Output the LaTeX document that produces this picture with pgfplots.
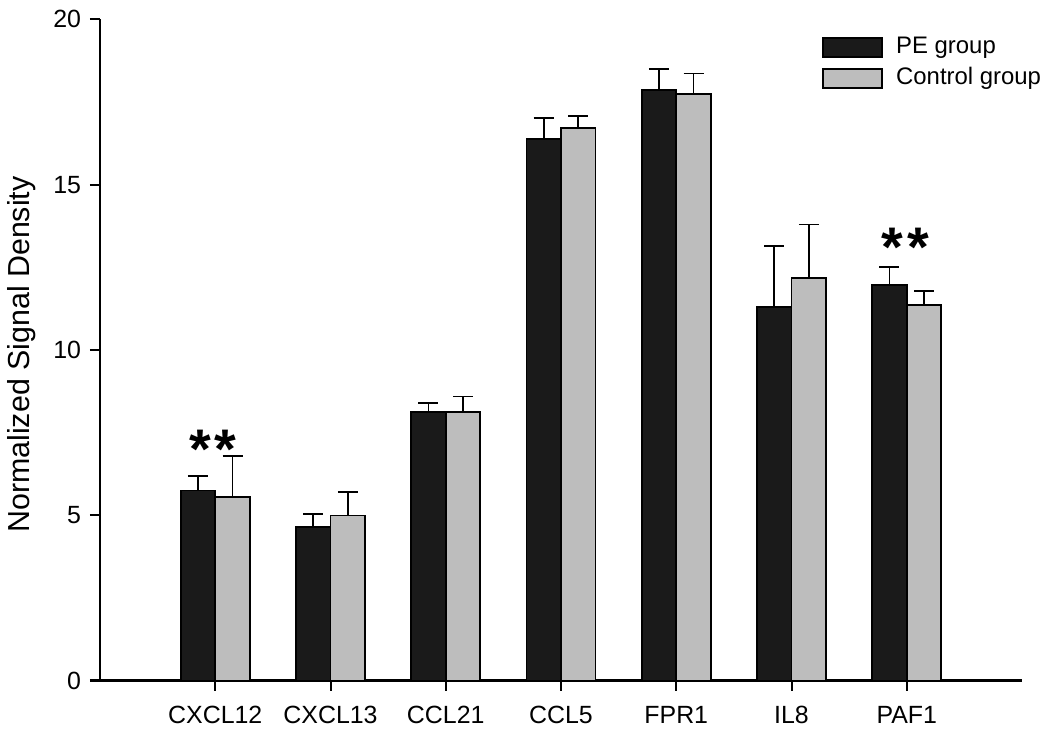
\documentclass[border=0pt]{standalone}
\usepackage{fontspec}
\setmainfont{Liberation Sans}
\usepackage{pgfplots}
\usepackage{pgfplotstable}
\pgfplotsset{compat=1.18}
\definecolor{pecol}{RGB}{26,26,26}
\definecolor{ctcol}{RGB}{189,189,189}
\pgfplotstableread{
x pe pee ct cte
0 5.75 0.43 5.54 1.24
1 4.64 0.39 4.99 0.71
2 8.11 0.29 8.11 0.48
3 16.38 0.63 16.70 0.37
4 17.87 0.62 17.73 0.63
5 11.29 1.85 12.17 1.62
6 11.96 0.55 11.35 0.44
}\data
\begin{document}
\begin{tikzpicture}
\useasboundingbox (-100bp,-52.5bp) rectangle (963bp,680.5bp);
\begin{axis}[
  at={(0,0)}, anchor=south west,
  scale only axis, width=922bp, height=661.2bp,
  xmin=-1, xmax=7, ymin=0, ymax=20,
  axis x line*=bottom, axis y line*=left,
  axis line style={line width=2bp, -},
  xtick={0,...,6},
  xticklabels={CXCL12,CXCL13,CCL21,CCL5,FPR1,IL8,PAF1},
  ytick={0,5,10,15,20},
  yticklabels={0\kern5.5bp,5\kern5.5bp,10\kern5.5bp,15\kern5.5bp,20\kern5.5bp},
  tick align=outside,
  major tick length=10bp,
  tick style={line width=2bp, black},
  xticklabel style={font=\fontsize{25}{29}\selectfont, yshift=-12bp},
  yticklabel style={font=\fontsize{25}{29}\selectfont},
  ylabel={Normalized Signal Density},
  every axis y label/.style={at={(axis description cs:-0.0846,0.493)}, rotate=90, anchor=center, font=\fontsize{30.5}{34}\selectfont},
  ybar=0pt, bar width=0.3,
  legend cell align=left,
  legend image code/.code={\draw[#1, line width=1.8bp] (0bp,-9.5bp) rectangle (59bp,9.5bp);},
  legend style={draw=none, fill=none, anchor=north west,
    at={(axis description cs:0.78,0.98)},
    font=\fontsize{24}{28}\selectfont,
    nodes={inner sep=2bp, text height=17bp, text depth=5bp},
    row sep=4.5bp,
    /tikz/every odd column/.append style={column sep=11bp}},
]
\addplot[ybar, bar shift=-0.15, fill=pecol, draw=black, line width=1.8bp,
  error bars/.cd, y dir=plus, y explicit,
  error bar style={line width=1.8bp, black},
  error mark options={rotate=90, line width=1.8bp, black, mark size=10bp}]
  table[x=x, y=pe, y error=pee] {\data};
\addlegendentry{PE group}
\addplot[ybar, bar shift=0.15, fill=ctcol, draw=black, line width=1.8bp,
  error bars/.cd, y dir=plus, y explicit,
  error bar style={line width=1.8bp, black},
  error mark options={rotate=90, line width=1.8bp, black, mark size=10bp}]
  table[x=x, y=ct, y error=cte] {\data};
\addlegendentry{Control group}
\node[font=\bfseries\fontsize{56}{56}\selectfont, yshift=-7bp] at (axis cs:-0.02,7.21) {*\hspace{4bp}*};
\node[font=\bfseries\fontsize{56}{56}\selectfont, yshift=-7bp] at (axis cs:5.99,13.32) {*\hspace{4bp}*};
\end{axis}
\end{tikzpicture}
\end{document}
